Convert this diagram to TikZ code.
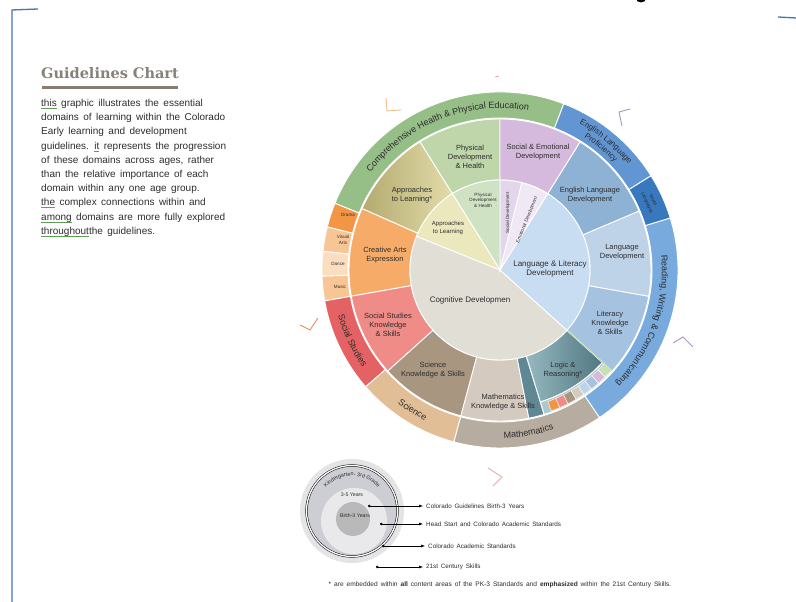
\documentclass[tikz,border=0pt]{standalone}
\usepackage{fontspec}
\setmainfont{Liberation Sans}
\newfontfamily\parafont{Liberation Sans}[WordSpace=1.6]
\newfontfamily\titlefont{DejaVu Serif}
\usetikzlibrary{arrows.meta,decorations.text}

\definecolor{pageblue}{RGB}{70,115,190}
\definecolor{txtdark}{RGB}{45,45,45}
\definecolor{titlegray}{RGB}{135,129,122}
\definecolor{rulegray}{RGB}{135,126,112}
\definecolor{spellgreen}{RGB}{90,160,80}
\definecolor{healthgreen}{RGB}{150,190,135}
\definecolor{physmid}{RGB}{190,214,170}
\definecolor{physin}{RGB}{207,226,196}
\definecolor{appdark}{RGB}{180,170,112}
\definecolor{applight}{RGB}{226,220,168}
\definecolor{appin}{RGB}{236,232,190}
\definecolor{socemo}{RGB}{214,186,221}
\definecolor{socdev}{RGB}{228,214,234}
\definecolor{emodev}{RGB}{240,232,245}
\definecolor{eld}{RGB}{142,178,212}
\definecolor{langdev}{RGB}{190,210,232}
\definecolor{litknow}{RGB}{165,195,225}
\definecolor{langlit}{RGB}{200,221,242}
\definecolor{elp}{RGB}{98,150,210}
\definecolor{worldlang}{RGB}{55,120,190}
\definecolor{reading}{RGB}{120,170,222}
\definecolor{cogn}{RGB}{225,222,214}
\definecolor{creative}{RGB}{246,172,104}
\definecolor{drama}{RGB}{242,150,70}
\definecolor{visarts}{RGB}{248,198,148}
\definecolor{dance}{RGB}{251,222,192}
\definecolor{music}{RGB}{248,198,148}
\definecolor{ssknow}{RGB}{240,140,135}
\definecolor{ssout}{RGB}{228,98,100}
\definecolor{sciknow}{RGB}{168,150,128}
\definecolor{sciout}{RGB}{226,190,150}
\definecolor{mathknow}{RGB}{212,202,192}
\definecolor{mathout}{RGB}{182,172,160}
\definecolor{logicl}{RGB}{150,185,192}
\definecolor{logicd}{RGB}{80,118,128}
\definecolor{tealstrip}{RGB}{95,135,148}
\definecolor{paleteal}{RGB}{175,200,205}
\definecolor{seamgreen}{RGB}{200,225,180}
\definecolor{legouter}{RGB}{228,228,228}
\definecolor{legkinder}{RGB}{205,205,212}
\definecolor{leglight}{RGB}{233,233,236}
\definecolor{legdark}{RGB}{185,185,185}
\definecolor{markorange}{RGB}{240,190,140}
\definecolor{markred}{RGB}{235,140,90}
\definecolor{markpurple}{RGB}{170,150,190}
\definecolor{markpink}{RGB}{235,170,170}

\newcommand\gul[1]{\setbox0=\hbox{#1}\rlap{\color{spellgreen}\rule[-2.2pt]{\wd0}{0.6pt}}\box0\relax}
\newcommand\ringfont{\fontsize{9}{10}\selectfont}
\newcommand\elpfont{\fontsize{8}{9}\selectfont}
\newcommand\wlfont{\fontsize{4.5}{5}\selectfont}
\newcommand\kgfont{\fontsize{5.4}{6}\selectfont}

\tikzset{
  sect/.style={draw=white, line width=0.9pt},
  lbl/.style={align=center, inner sep=0, text=txtdark, font=\fontsize{7.5}{9}\selectfont},
  tinylbl/.style={lbl, font=\fontsize{4.6}{5.4}\selectfont},
  arclabel/.style={decorate, decoration={text along path, text align=center, text={#1}}},
  cropmark/.style={line width=0.9pt},
  legtext/.style={anchor=west, inner sep=0, font=\parafont\fontsize{6.3}{7}\selectfont, text=txtdark},
  legarrow/.style={{Circle[length=2.6pt]}-{Latex[length=4pt,width=3pt]}, line width=0.5pt, shorten >=3pt},
}

\begin{document}
\begin{tikzpicture}[x=1pt, y=1pt]
\useasboundingbox (0,0) rectangle (796,602);
\fill[white] (0,0) rectangle (796,602);

% page frame
\draw[pageblue, line width=1.3pt] (12,0) -- (12,592) -- (38,593);
\draw[pageblue, line width=1.3pt] (778,585) -- (796,584);
\fill (641,603.5) ellipse[x radius=5, y radius=4];

% heading and intro
\node[anchor=base west, inner sep=0, text=titlegray, font=\titlefont\bfseries\fontsize{14.5}{16}\selectfont] (title) at (41,523) {Guidelines Chart};
\fill[rulegray] (42,513) rectangle (178,516);
\node[anchor=north west, align=left, inner sep=0, text=txtdark, font=\parafont\fontsize{10}{14.2}\selectfont] (intro) at (41,503) {\gul{this} graphic illustrates the essential\\
domains of learning within the Colorado\\
Early learning and development\\
guidelines. \gul{it} represents the progression\\
of these domains across ages, rather\\
than the relative importance of each\\
domain within any one age group.\\
\gul{the} complex connections within and\\
\gul{among} domains are more fully explored\\
\gul{throughout}the guidelines.};

% crop marks
\draw[cropmark, markorange] (386,504) -- (387,491) -- (401,492);
\draw[cropmark, markpurple] (630,493) -- (619,490) -- (622,476);
\draw[cropmark, markred] (300,277) -- (310,272) -- (318,284);
\draw[cropmark, markpurple] (673,259) -- (683,265) -- (693,255);
\draw[cropmark, markpink] (488,134) -- (502,125) -- (493,116);
\draw[cropmark, markpink] (495,525) -- (499,526);

\begin{scope}[shift={(500,332)}]
% middle ring
\draw[sect, fill=physmid] (90:90) arc[start angle=90, end angle=122, radius=90] -- (122:151) arc[start angle=122, end angle=90, radius=151] -- cycle;
\path[sect, left color=appdark, right color=applight] (122:90) arc[start angle=122, end angle=156, radius=90] -- (156:151) arc[start angle=156, end angle=122, radius=151] -- cycle;
\draw[sect, fill=creative] (156:90) arc[start angle=156, end angle=190, radius=90] -- (190:151) arc[start angle=190, end angle=156, radius=151] -- cycle;
\draw[sect, fill=ssknow] (190:90) arc[start angle=190, end angle=222, radius=90] -- (222:151) arc[start angle=222, end angle=190, radius=151] -- cycle;
\draw[sect, fill=sciknow] (222:90) arc[start angle=222, end angle=255, radius=90] -- (255:151) arc[start angle=255, end angle=222, radius=151] -- cycle;
\draw[sect, fill=mathknow] (255:90) arc[start angle=255, end angle=281, radius=90] -- (281:151) arc[start angle=281, end angle=255, radius=151] -- cycle;
\draw[sect, fill=tealstrip] (281:90) arc[start angle=281, end angle=287, radius=90] -- (287:151) arc[start angle=287, end angle=281, radius=151] -- cycle;
\path[sect, left color=logicl, right color=logicd] (287:90) arc[start angle=287, end angle=318, radius=90] -- (318:138) arc[start angle=318, end angle=287, radius=138] -- cycle;
\draw[sect, fill=paleteal] (287:138) arc[start angle=287, end angle=318, radius=138] -- (318:151) arc[start angle=318, end angle=287, radius=151] -- cycle;
\draw[sect, fill=litknow] (-42:90) arc[start angle=-42, end angle=-10, radius=90] -- (-10:151) arc[start angle=-10, end angle=-42, radius=151] -- cycle;
\draw[sect, fill=langdev] (-10:90) arc[start angle=-10, end angle=23, radius=90] -- (23:151) arc[start angle=23, end angle=-10, radius=151] -- cycle;
\draw[sect, fill=eld] (23:90) arc[start angle=23, end angle=58, radius=90] -- (58:151) arc[start angle=58, end angle=23, radius=151] -- cycle;
\draw[sect, fill=socemo] (58:90) arc[start angle=58, end angle=90, radius=90] -- (90:151) arc[start angle=90, end angle=58, radius=151] -- cycle;

% logic squares
\draw[sect, line width=0.4pt, fill=drama] (290:140) arc[start angle=290, end angle=293.5, radius=140] -- (293.5:150) arc[start angle=293.5, end angle=290, radius=150] -- cycle;
\draw[sect, line width=0.4pt, fill=ssknow] (293.5:140) arc[start angle=293.5, end angle=297, radius=140] -- (297:150) arc[start angle=297, end angle=293.5, radius=150] -- cycle;
\draw[sect, line width=0.4pt, fill=sciknow] (297:140) arc[start angle=297, end angle=300.5, radius=140] -- (300.5:150) arc[start angle=300.5, end angle=297, radius=150] -- cycle;
\draw[sect, line width=0.4pt, fill=mathknow] (300.5:140) arc[start angle=300.5, end angle=304, radius=140] -- (304:150) arc[start angle=304, end angle=300.5, radius=150] -- cycle;
\draw[sect, line width=0.4pt, fill=langdev] (304:140) arc[start angle=304, end angle=307.5, radius=140] -- (307.5:150) arc[start angle=307.5, end angle=304, radius=150] -- cycle;
\draw[sect, line width=0.4pt, fill=litknow] (307.5:140) arc[start angle=307.5, end angle=311, radius=140] -- (311:150) arc[start angle=311, end angle=307.5, radius=150] -- cycle;
\draw[sect, line width=0.4pt, fill=socemo] (311:140) arc[start angle=311, end angle=314.5, radius=140] -- (314.5:150) arc[start angle=314.5, end angle=311, radius=150] -- cycle;
\draw[sect, line width=0.4pt, fill=seamgreen] (314.5:140) arc[start angle=314.5, end angle=318, radius=140] -- (318:150) arc[start angle=318, end angle=314.5, radius=150] -- cycle;
\draw[seamgreen, line width=1.2pt] (318:90) -- (318:151);

% inner disc
\draw[sect, fill=cogn] (0,0) -- (158:90) arc[start angle=158, end angle=318, radius=90] -- cycle;
\draw[sect, fill=langlit] (0,0) -- (-42:90) arc[start angle=-42, end angle=58, radius=90] -- cycle;
\draw[sect, fill=emodev] (0,0) -- (58:90) arc[start angle=58, end angle=76, radius=90] -- cycle;
\draw[sect, fill=socdev] (0,0) -- (76:90) arc[start angle=76, end angle=90, radius=90] -- cycle;
\draw[sect, fill=physin] (0,0) -- (90:90) arc[start angle=90, end angle=122, radius=90] -- cycle;
\draw[sect, fill=appin] (0,0) -- (122:90) arc[start angle=122, end angle=158, radius=90] -- cycle;

% outer ring
\draw[sect, fill=healthgreen] (69:152) arc[start angle=69, end angle=158, radius=152] -- (158:178) arc[start angle=158, end angle=69, radius=178] -- cycle;
\draw[sect, fill=drama] (158:152) arc[start angle=158, end angle=166, radius=152] -- (166:178) arc[start angle=166, end angle=158, radius=178] -- cycle;
\draw[sect, fill=visarts] (166:152) arc[start angle=166, end angle=174, radius=152] -- (174:178) arc[start angle=174, end angle=166, radius=178] -- cycle;
\draw[sect, fill=dance] (174:152) arc[start angle=174, end angle=182, radius=152] -- (182:178) arc[start angle=182, end angle=174, radius=178] -- cycle;
\draw[sect, fill=music] (182:152) arc[start angle=182, end angle=190, radius=152] -- (190:178) arc[start angle=190, end angle=182, radius=178] -- cycle;
\draw[sect, fill=ssout] (190:152) arc[start angle=190, end angle=221, radius=152] -- (221:178) arc[start angle=221, end angle=190, radius=178] -- cycle;
\draw[sect, fill=sciout] (221:152) arc[start angle=221, end angle=255, radius=152] -- (255:178) arc[start angle=255, end angle=221, radius=178] -- cycle;
\draw[sect, fill=mathout] (255:152) arc[start angle=255, end angle=304, radius=152] -- (304:178) arc[start angle=304, end angle=255, radius=178] -- cycle;
\draw[sect, fill=reading] (-56:152) arc[start angle=-56, end angle=17, radius=152] -- (17:178) arc[start angle=17, end angle=-56, radius=178] -- cycle;
\draw[sect, fill=worldlang] (17:152) arc[start angle=17, end angle=32, radius=152] -- (32:178) arc[start angle=32, end angle=17, radius=178] -- cycle;
\draw[sect, fill=elp] (32:152) arc[start angle=32, end angle=69, radius=152] -- (69:178) arc[start angle=69, end angle=32, radius=178] -- cycle;

% ring labels
\path[arclabel={|\ringfont\color{txtdark}|Comprehensive Health {\&} Physical Education}] (153:161.8) arc[start angle=153, end angle=70, radius=161.8];
\path[arclabel={|\elpfont\color{txtdark}|English Language}] (68:166.5) arc[start angle=68, end angle=33, radius=166.5];
\path[arclabel={|\elpfont\color{txtdark}|Proficiency}] (68:157) arc[start angle=68, end angle=33, radius=157];
\path[arclabel={|\wlfont\color{txtdark}|World}] (31:167) arc[start angle=31, end angle=18, radius=167];
\path[arclabel={|\wlfont\color{txtdark}|Languages}] (31:160.5) arc[start angle=31, end angle=18, radius=160.5];
\path[arclabel={|\ringfont\color{txtdark}|Reading{,} Writing {\&} Communicating}] (15:161.8) arc[start angle=15, end angle=-54, radius=161.8];
\path[arclabel={|\ringfont\color{txtdark}|Mathematics}] (258:168.2) arc[start angle=258, end angle=302, radius=168.2];
\path[arclabel={|\ringfont\color{txtdark}|Science}] (223:168.2) arc[start angle=223, end angle=253, radius=168.2];
\path[arclabel={|\ringfont\color{txtdark}|Social Studies}] (191:168.2) arc[start angle=191, end angle=220, radius=168.2];

% sector labels
\node[lbl] (physmidlbl) at (-30,113) {Physical\\Development\\\& Health};
\node[lbl] (socemolbl) at (38,118) {Social \& Emotional\\Development};
\node[lbl] (appmidlbl) at (-88,75) {Approaches\\to Learning*};
\node[lbl] (eldlbl) at (90,75) {English Language\\Development};
\node[lbl] (creativelbl) at (-115,15) {Creative Arts\\Expression};
\node[lbl] (langdevlbl) at (122,18) {Language\\Development};
\node[lbl] (ssknowlbl) at (-112,-55) {Social Studies\\Knowledge\\\& Skills};
\node[lbl] (litknowlbl) at (110,-53) {Literacy\\Knowledge\\\& Skills};
\node[lbl] (sciknowlbl) at (-67,-100) {Science\\Knowledge \& Skills};
\node[lbl] (mathknowlbl) at (3,-132) {Mathematics\\Knowledge \& Skills};
\node[lbl] (logiclbl) at (63,-100) {Logic \&\\Reasoning*};
\node[lbl, font=\fontsize{8}{9.5}\selectfont] (cognlbl) at (-30,-30) {Cognitive Developmen};
\node[lbl, font=\fontsize{8}{9.5}\selectfont] (langlitlbl) at (50,1) {Language \& Literacy\\Development};
\node[tinylbl] (physinlbl) at (-17,70) {Physical\\Development\\\& Health};
\node[lbl, font=\fontsize{6}{7.5}\selectfont] (appinlbl) at (-52,42) {Approaches\\to Learning};
\node[tinylbl, rotate=90] (socdevlbl) at (8,57) {Social Development};
\node[tinylbl, rotate=68] (emodevlbl) at (27,50) {Emotional Development};
\node[tinylbl] (dramalbl) at (-152,55) {Drama};
\node[tinylbl] (visartslbl) at (-157,30) {Visual\\Arts};
\node[tinylbl] (dancelbl) at (-162,6) {Dance};
\node[tinylbl] (musiclbl) at (-160,-17) {Music};
\end{scope}

% legend
\fill[legouter] (352,91) circle (52);
\fill[legkinder] (352,91) circle (45);
\draw[double=white, double distance=1.3pt, line width=0.5pt] (352,91) circle (45.5);
\fill[leglight] (354,81) circle (33);
\fill[legdark] (353,83) circle (17);
\path[arclabel={|\kgfont\color{txtdark}|Kindergarten- 3rd Grade}] (352,91) ++(150:35) arc[start angle=150, end angle=30, radius=35];
\node[tinylbl, font=\fontsize{5.2}{6}\selectfont] (yearslbl) at (352,107) {3-5 Years};
\node[tinylbl, font=\fontsize{5.2}{6}\selectfont] (birthlbl) at (355,86) {Birth-3 Years};

\node[legtext] (guide) at (426,96) {Colorado Guidelines Birth-3 Years};
\node[legtext] (headstart) at (426,78) {Head Start and Colorado Academic Standards};
\node[legtext] (academic) at (428,56) {Colorado Academic Standards};
\node[legtext] (century) at (426,35) {21st Century Skills};
\coordinate (guidedot) at (368,96);
\coordinate (headdot) at (380,78);
\coordinate (acaddot) at (382,56);
\coordinate (centdot) at (376,35);
\draw[legarrow] (guidedot) -- (guide.west);
\draw[legarrow] (headdot) -- (headstart.west);
\draw[legarrow] (acaddot) -- (academic.west);
\draw[legarrow] (centdot) -- (century.west);

\node[inner sep=0, text=txtdark, font=\parafont\fontsize{6.6}{7}\selectfont] (foot) at (500,17) {* are embedded within \textbf{all} content areas of the PK-3 Standards and \textbf{emphasized} within the 21st Century Skills.};
\end{tikzpicture}
\end{document}
